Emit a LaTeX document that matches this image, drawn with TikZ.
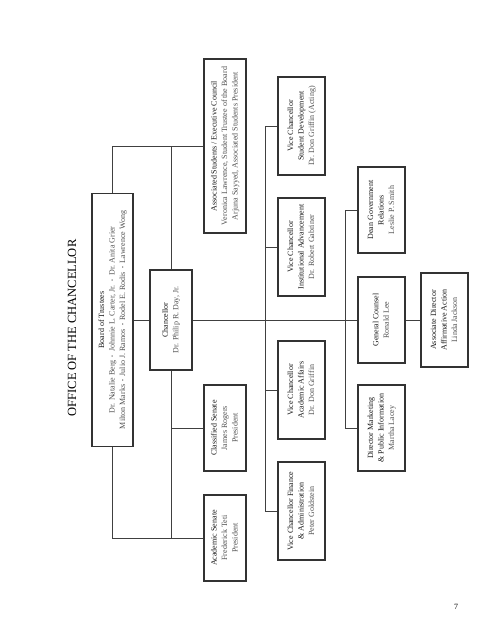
\documentclass[tikz,border=0pt]{standalone}
\usepackage{fontspec}
\setmainfont{Liberation Serif}
\usepackage{graphicx}
\newcommand\rottext[1]{\rotatebox{90}{\fontsize{8}{10.5}\selectfont\color{black!90}\begin{tabular}{@{}c@{}}#1\end{tabular}}}
\newcommand\nm[1]{\textcolor{black!68}{#1}}
\newcommand\bul{\,\raisebox{0.1ex}{\scalebox{0.7}{\textbullet}}\,}
\begin{document}
\begin{tikzpicture}[x=1pt,y=-1pt,
  box/.style={draw=black!80, line width=1.6pt, fill=white, inner sep=0pt, align=center},
  conn/.style={draw=black!75, line width=0.7pt}]
\fill[white] (0,0) rectangle (495,640);
\useasboundingbox (0,0) rectangle (495,640);

\node (title) at (72,328) {\rotatebox{90}{\fontsize{12.5}{14}\selectfont OFFICE OF THE CHANCELLOR}};

\node[box, minimum width=42pt, minimum height=174pt] (assoc) at (225,146) {\rottext{Associated Students / Executive Council\\\nm{Veronica Lawrence, Student Trustee of the Board}\\\nm{Arjuna Sayyed, Associated Students President}}};
\node[box, minimum width=41pt, minimum height=253pt] (board) at (112.5,320) {\rottext{Board of Trustees\\\nm{Dr. Natalie Berg \bul\ Johnnie L. Carter, Jr. \bul\ Dr. Anita Grier}\\\nm{Milton Marks \bul\ Julio J. Ramos \bul\ Rodel E. Rodis \bul\ Lawrence Wong}}};
\node[box, minimum width=42pt, minimum height=100pt] (chanc) at (171,320) {\rottext{Chancellor\\\nm{Dr. Philip R. Day, Jr.}}};
\node[box, minimum width=42pt, minimum height=86pt] (class) at (225,428) {\rottext{Classified Senate\\\nm{James Rogers}\\\nm{President}}};
\node[box, minimum width=42pt, minimum height=86pt] (acad) at (225,538) {\rottext{Academic Senate\\\nm{Frederick Teti}\\\nm{President}}};

\node[box, minimum width=47pt, minimum height=98pt] (vcsd) at (301.5,126) {\rottext{Vice Chancellor\\Student Development\\\nm{Dr. Don Griffin (Acting)}}};
\node[box, minimum width=47pt, minimum height=98pt] (vcia) at (301.5,247) {\rottext{Vice Chancellor\\Institutional Advancement\\\nm{Dr. Robert Gabriner}}};
\node[box, minimum width=47pt, minimum height=98pt] (vcaa) at (301.5,390) {\rottext{Vice Chancellor\\Academic Affairs\\\nm{Dr. Don Griffin}}};
\node[box, minimum width=47pt, minimum height=98pt] (vcf) at (301.5,511) {\rottext{Vice Chancellor Finance\\\& Administration\\\nm{Peter Goldstein}}};

\node[box, minimum width=47pt, minimum height=86pt] (dean) at (381.5,210) {\rottext{Dean Government\\Relations\\\nm{Leslie P. Smith}}};
\node[box, minimum width=47pt, minimum height=86pt] (gc) at (381.5,320) {\rottext{General Counsel\\\nm{Ronald Lee}}};
\node[box, minimum width=47pt, minimum height=86pt] (dir) at (381.5,428) {\rottext{Director Marketing\\\& Public Information\\\nm{Martha Lacey}}};
\node[box, minimum width=47pt, minimum height=94pt] (aad) at (444.5,320) {\rottext{Associate Director\\Affirmative Action\\\nm{Linda Jackson}}};

\node (pg) at (456,607) {\fontsize{8}{10}\selectfont 7};

\coordinate (vx) at (265,320);
\coordinate (dx) at (345,320);

\draw[conn] (board.north) |- (assoc.west);
\draw[conn] (board.south) |- (acad.west);
\draw[conn] (chanc.north) -- (chanc.north |- assoc.west);
\draw[conn] (chanc.south) -- (chanc.south |- acad.west);
\draw[conn] (chanc.south |- class.west) -- (class.west);
\draw[conn] (board.east) -- (chanc.west);
\draw[conn] (chanc.east) -- (gc.west);
\draw[conn] (gc.east) -- (aad.west);

\draw[conn] (vx |- vcsd.west) -- (vx |- vcf.west);
\draw[conn] (vx |- vcsd.west) -- (vcsd.west);
\draw[conn] (vx |- vcia.west) -- (vcia.west);
\draw[conn] (vx |- vcaa.west) -- (vcaa.west);
\draw[conn] (vx |- vcf.west) -- (vcf.west);

\draw[conn] (dx |- dean.west) -- (dx |- dir.west);
\draw[conn] (dx |- dean.west) -- (dean.west);
\draw[conn] (dx |- dir.west) -- (dir.west);
\end{tikzpicture}
\end{document}
